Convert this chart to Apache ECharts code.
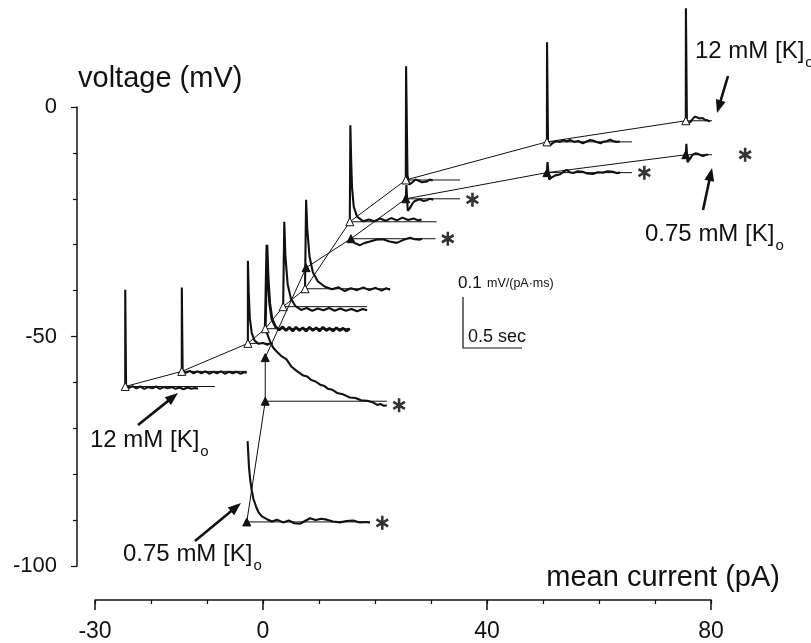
<!DOCTYPE html>
<html><head><meta charset="utf-8">
<script src="https://cdn.jsdelivr.net/npm/echarts@6/dist/echarts.min.js"></script>
<style>html,body{margin:0;padding:0;background:#fff}#c{width:811px;height:643px}</style>
</head><body><div id="c"></div>
<script>
// ---------- DATA (mean current pA, voltage mV) ----------
const xTickLabels = [-30, 0, 40, 80];
const yTickLabels = [0, -50, -100];

// I-V curve, 12 mM [K]o (open triangles)
const iv12x = [-24.6, -14.5, -2.7, 0.4, 3.6, 7.5, 15.5, 25.5, 50.7, 75.5];
const iv12y = [-60.9, -57.6, -51.5, -48.3, -43.5, -39.6, -25.0, -15.9, -7.6, -3.0];
// end of thin reference line drawn right of each 12 mM point
const base12End = [-8.6, -2.9, 1.8, 15.5, 18.6, 22.7, 31.0, 35.2, 65.9, 83.9];

// I-V curve, 0.75 mM [K]o (filled triangles)
const iv075x = [-2.9, 0.4, 0.4, 7.7, 15.7, 25.5, 50.7, 75.5];
const iv075y = [-90.4, -64.1, -54.6, -35.0, -28.7, -20.0, -14.3, -10.4];
const base075End = [19.1, 22.1, null, null, 30.8, 35.2, 65.9, 83.9];

// voltage traces drawn at each point (12 mM)
const t12_1 = [[-24.6,-60.9],[-24.6,-39.8],[-24.45,-60.7],[-23.9,-61.2],[-23.3,-60.8],[-22.6,-61.3],[-21.9,-60.9],[-21.2,-61.4],[-20.5,-61.0],[-19.8,-61.3],[-19.1,-60.9],[-18.4,-61.4],[-17.7,-61.0],[-17.0,-61.3],[-16.3,-61.0],[-15.6,-61.4],[-14.9,-61.1],[-14.2,-61.5],[-13.5,-61.1],[-12.8,-61.4],[-12.1,-61.2],[-11.6,-61.4]];
const t12_2 = [[-14.5,-57.6],[-14.5,-39.3],[-14.35,-57.4],[-13.8,-57.9],[-13.1,-57.5],[-12.4,-58.0],[-11.7,-57.6],[-11.0,-58.0],[-10.3,-57.6],[-9.6,-58.1],[-8.9,-57.7],[-8.2,-58.0],[-7.5,-57.6],[-6.8,-58.1],[-6.1,-57.7],[-5.4,-58.0],[-4.7,-57.7],[-4.0,-58.1],[-3.4,-57.8],[-2.9,-57.9]];
const t12_3 = [[-2.7,-51.5],[-2.7,-33.5],[-2.55,-40.5],[-2.35,-46.0],[-2.0,-49.3],[-1.5,-50.9],[-0.8,-51.6],[0.0,-51.4],[0.8,-51.8],[1.3,-51.5]];
const t12_4 = [[0.4,-48.3],[0.7,-30.0],[0.9,-37.0],[1.2,-42.8],[1.6,-46.2],[2.2,-47.8],[2.9,-48.6],[3.5,-47.9],[4.1,-48.7],[4.7,-48.0],[5.3,-48.8],[5.9,-48.0],[6.5,-48.7],[7.1,-48.1],[7.7,-48.8],[8.3,-48.0],[8.9,-48.7],[9.5,-48.1],[10.1,-48.8],[10.7,-48.0],[11.3,-48.7],[11.9,-48.2],[12.5,-48.8],[13.1,-48.1],[13.7,-48.7],[14.3,-48.2],[14.9,-48.8],[15.5,-48.3]];
const t12_5 = [[3.6,-43.5],[3.8,-25.0],[4.0,-32.5],[4.4,-38.6],[5.0,-41.8],[5.8,-43.4],[6.8,-44.2],[7.8,-43.8],[8.8,-44.4],[9.8,-43.9],[10.8,-44.3],[11.8,-43.8],[12.8,-44.4],[13.8,-43.9],[14.8,-44.4],[15.8,-44.0],[16.8,-44.5],[17.8,-44.0],[18.6,-44.3]];
const t12_6 = [[7.5,-39.6],[7.7,-20.2],[7.9,-26.5],[8.3,-32.5],[8.9,-36.0],[9.8,-38.0],[11.0,-39.1],[12.3,-39.7],[13.5,-39.3],[14.6,-40.1],[15.7,-39.5],[16.8,-39.9],[17.9,-39.3],[19.0,-39.9],[20.1,-39.4],[21.2,-40.0],[22.0,-39.5],[22.7,-39.8]];
const t12_7 = [[15.5,-25.0],[15.6,-4.0],[15.75,-12.0],[15.9,-17.5],[16.2,-21.7],[16.8,-23.9],[17.9,-24.9],[18.9,-24.5],[19.9,-24.9],[20.9,-24.3],[21.9,-24.8],[22.9,-24.2],[23.9,-24.7],[24.9,-24.1],[25.9,-24.6],[26.9,-24.3],[27.7,-24.7],[28.3,-24.5]];
const t12_8 = [[25.5,-15.9],[25.55,8.9],[25.8,-14.8],[26.1,-16.9],[26.6,-16.5],[27.2,-15.8],[27.7,-16.0],[28.4,-16.4],[29.3,-16.2],[29.8,-15.8],[30.3,-16.0]];
const t12_9 = [[50.7,-7.6],[50.72,14.1],[50.9,-8.2],[51.3,-8.3],[51.8,-7.8],[52.4,-7.4],[53.0,-7.6],[53.7,-7.2],[54.3,-7.5],[54.8,-7.2],[55.6,-7.6],[56.3,-7.4],[57.1,-7.9],[57.8,-7.5],[58.4,-7.2],[58.9,-7.3],[59.7,-7.7],[60.3,-7.9],[60.7,-7.6],[61.5,-7.4],[62.0,-7.1],[62.5,-7.4],[63.1,-7.6],[63.75,-7.5]];
const t12_10 = [[75.5,-3.0],[75.52,21.5],[75.7,-3.6],[75.9,-4.0],[76.3,-3.3],[76.6,-2.8],[77.1,-2.1],[77.6,-2.3],[78.0,-2.5],[78.5,-2.4],[78.9,-2.8],[79.4,-2.9],[79.8,-3.2]];

// voltage traces (0.75 mM), each marked by an asterisk
const t075_1 = [[-2.75,-72.8],[-2.5,-78.5],[-2.3,-81.1],[-2.0,-83.6],[-1.7,-85.4],[-1.2,-87.2],[-0.8,-88.3],[-0.2,-89.2],[0.7,-89.8],[1.6,-90.3],[2.5,-89.9],[3.6,-90.5],[4.6,-90.1],[5.6,-90.7],[6.6,-90.8],[7.5,-90.2],[8.4,-89.6],[9.4,-90.0],[10.4,-89.7],[11.4,-89.9],[12.5,-90.3],[13.75,-90.5],[14.9,-90.2],[16.1,-90.1],[17.3,-90.5],[18.5,-90.4],[19.1,-90.6]];
const t075_2 = [[0.45,-48.0],[0.8,-49.6],[1.25,-51.0],[1.8,-52.4],[2.4,-53.2],[3.3,-54.3],[4.2,-55.0],[5.1,-56.6],[6.0,-57.5],[7.2,-58.5],[7.9,-58.7],[8.6,-59.5],[9.4,-59.8],[10.2,-60.5],[11.0,-60.8],[11.6,-61.4],[12.4,-61.6],[13.2,-62.3],[14.3,-62.6],[15.5,-63.3],[16.5,-63.4],[17.5,-63.9],[18.6,-64.0],[19.7,-64.4],[20.4,-64.9],[21.0,-64.7],[21.6,-65.1],[22.1,-65.0]];
const t075_5 = [[15.7,-28.7],[16.3,-29.6],[17.3,-30.1],[18.2,-29.6],[19.1,-29.3],[20.2,-28.9],[21.4,-28.8],[22.6,-29.3],[23.9,-29.6],[25.0,-29.0],[26.25,-28.5],[27.1,-28.8],[28.0,-28.9],[28.4,-28.7]];
const t075_6 = [[25.5,-20.0],[25.6,-17.0],[25.85,-22.6],[26.25,-22.0],[26.7,-21.0],[27.1,-20.5],[28.0,-20.1],[28.7,-20.5],[29.3,-20.3],[29.8,-20.0],[30.4,-20.2]];
const t075_7 = [[50.7,-14.3],[50.8,-12.0],[51.1,-15.8],[51.5,-15.4],[52.2,-14.9],[53.0,-14.7],[53.6,-14.2],[54.2,-13.7],[54.8,-14.2],[55.4,-14.4],[56.2,-14.0],[57.1,-14.1],[57.9,-14.5],[58.9,-14.6],[59.8,-14.2],[60.7,-14.3],[61.6,-14.0],[62.5,-14.1],[63.1,-14.4],[63.75,-14.3]];
const t075_8 = [[75.5,-10.4],[75.6,-8.0],[75.8,-12.0],[76.0,-12.2],[76.3,-11.2],[76.7,-10.4],[77.2,-10.1],[77.7,-10.2],[78.2,-10.5],[78.6,-10.7],[79.1,-10.4],[79.5,-10.4]];

const traces12 = [t12_1, t12_2, t12_3, t12_4, t12_5, t12_6, t12_7, t12_8, t12_9, t12_10];
const traces075 = [t075_1, t075_2, t075_5, t075_6, t075_7, t075_8];

// ---------- CHART ----------
const FONT = '"Liberation Sans", Arial, Helvetica, sans-serif';
const INK = '#111';
const chart = echarts.init(document.getElementById('c'), null, {renderer: 'canvas'});

function lineS(data, width, z) {
  return {type: 'line', data: data, symbol: 'none', clip: false, silent: true, z: z,
    lineStyle: {color: INK, width: width}, itemStyle: {color: INK}, animation: false};
}

const series = [];
// thin reference lines
iv12x.forEach((x, i) => { if (base12End[i] != null) series.push(lineS([[x, iv12y[i]], [base12End[i], iv12y[i]]], 1, 2)); });
iv075x.forEach((x, i) => { if (base075End[i] != null) series.push(lineS([[x, iv075y[i]], [base075End[i], iv075y[i]]], 1, 2)); });
// traces
traces12.forEach((t, i) => series.push(lineS(t, i === 3 ? 2.8 : 2.1, 3)));
traces075.forEach(t => series.push(lineS(t, 2.1, 3)));
// I-V curves
series.push({type: 'line', name: '12 mM', data: iv12x.map((x, i) => [x, iv12y[i]]), clip: false, silent: true, z: 6,
  symbol: 'triangle', symbolSize: 8, showSymbol: true,
  lineStyle: {color: INK, width: 1}, itemStyle: {color: '#fff', borderColor: INK, borderWidth: 1}, animation: false});
series.push({type: 'line', name: '0.75 mM', data: iv075x.map((x, i) => [x, iv075y[i]]), clip: false, silent: true, z: 6,
  symbol: 'triangle', symbolSize: 8, showSymbol: true,
  lineStyle: {color: INK, width: 1}, itemStyle: {color: INK, borderColor: INK, borderWidth: 1}, animation: false});

// asterisks at the end of each 0.75 mM trace
function starPath() {
  let p = '';
  [90, 30, 150].forEach(a => {
    const r = a * Math.PI / 180, cx = Math.cos(r), cy = Math.sin(r), nx = -cy, ny = cx, L = 10, w = 1.9;
    const pts = [[L*cx + w*nx, L*cy + w*ny], [L*cx - w*nx, L*cy - w*ny], [-L*cx - w*nx, -L*cy - w*ny], [-L*cx + w*nx, -L*cy + w*ny]];
    p += 'M' + pts.map(q => q[0].toFixed(2) + ' ' + q[1].toFixed(2)).join(' L') + ' Z ';
  });
  return 'path://' + p;
}
const starPts = traces075.map((t, i) => {
  const idx = [0, 1, 4, 5, 6, 7][i];
  const last = t[t.length - 1];
  const end = Math.max(last[0], base075End[idx] || last[0]);
  return [end + 2.2, last[1]];
});
series.push({type: 'scatter', data: starPts, symbol: starPath(), symbolSize: [13, 14], clip: false, silent: true, z: 7,
  itemStyle: {color: '#000'}, animation: false});

// ---------- annotations ----------
function textW(str, fs) {
  const c = document.createElement('canvas').getContext('2d');
  c.font = fs + 'px "Liberation Sans"';
  return c.measureText(str).width;
}
function txt(x, yBase, s, fs, align) {
  return {type: 'text', silent: true, z: 10, x: x, y: yBase - 0.35 * fs,
    style: {text: s, font: fs + 'px ' + FONT, fill: INK, textAlign: align || 'left', textVerticalAlign: 'middle'}};
}
function subLabel(x, yBase, main, fs, subFs) {
  const w = textW(main, fs);
  return [txt(x, yBase, main, fs), txt(x + w + 1, yBase + 8, 'o', subFs)];
}
function arrow(x1, y1, x2, y2) {
  const dx = x2 - x1, dy = y2 - y1, L = Math.hypot(dx, dy), ux = dx / L, uy = dy / L;
  const hl = 13, hw = 5, bx = x2 - ux * hl, by = y2 - uy * hl;
  return [
    {type: 'line', silent: true, z: 10, shape: {x1: x1, y1: y1, x2: bx + ux * 2, y2: by + uy * 2}, style: {stroke: INK, lineWidth: 2.6}},
    {type: 'polygon', silent: true, z: 10, shape: {points: [[x2, y2], [bx - uy * hw, by + ux * hw], [bx + uy * hw, by - ux * hw]]}, style: {fill: INK}}
  ];
}
const graphics = [].concat(
  [txt(78, 89, 'voltage (mV)', 29)],
  [txt(780, 588, 'mean current (pA)', 29, 'right')],
  subLabel(695, 60, '12 mM [K]', 24, 15),
  subLabel(645, 243, '0.75 mM [K]', 24, 15),
  subLabel(90, 449, '12 mM [K]', 24, 15),
  subLabel(123, 563, '0.75 mM [K]', 24, 15),
  arrow(728, 76, 717, 113),
  arrow(703, 210, 712, 168),
  arrow(138, 425, 178, 393),
  arrow(195, 541, 241, 503),
  [
    {type: 'polyline', silent: true, z: 10, shape: {points: [[463, 297], [463, 348], [522, 348]]}, style: {stroke: INK, lineWidth: 1.2, fill: null}},
    txt(458, 289, '0.1', 17),
    txt(487, 288, 'mV/(pA\u00b7ms)', 12.5),
    txt(468, 343, '0.5 sec', 18)
  ]
);

chart.setOption({
  animation: false,
  backgroundColor: '#fff',
  grid: {left: 95, right: 100, top: 107, bottom: 76, containLabel: false},
  xAxis: [
    {type: 'value', min: -30, max: 80, interval: 10, position: 'bottom', offset: 34,
      axisLine: {show: true, onZero: false, lineStyle: {color: INK, width: 1.5}},
      axisTick: {show: true, length: 4, lineStyle: {color: INK, width: 1.2}},
      axisLabel: {show: false}, splitLine: {show: false}},
    {type: 'value', min: -30, max: 80, position: 'bottom', offset: 34,
      axisLine: {show: false, onZero: false},
      axisTick: {show: true, length: 10, customValues: xTickLabels, lineStyle: {color: INK, width: 1.5}},
      axisLabel: {show: true, customValues: xTickLabels, fontSize: 23, fontFamily: FONT, color: INK, margin: 20},
      splitLine: {show: false}}
  ],
  yAxis: {type: 'value', min: -100, max: 0, interval: 50, offset: 18,
    axisLine: {show: true, onZero: false, lineStyle: {color: INK, width: 1.5}},
    axisTick: {show: true, length: 6, lineStyle: {color: INK, width: 1.2}},
    minorTick: {show: true, splitNumber: 5, length: 4, lineStyle: {color: INK, width: 1.2}},
    axisLabel: {show: true, customValues: yTickLabels, fontSize: 22, fontFamily: FONT, color: INK, margin: 20},
    splitLine: {show: false}, minorSplitLine: {show: false}},
  series: series,
  graphic: graphics
});
</script></body></html>
